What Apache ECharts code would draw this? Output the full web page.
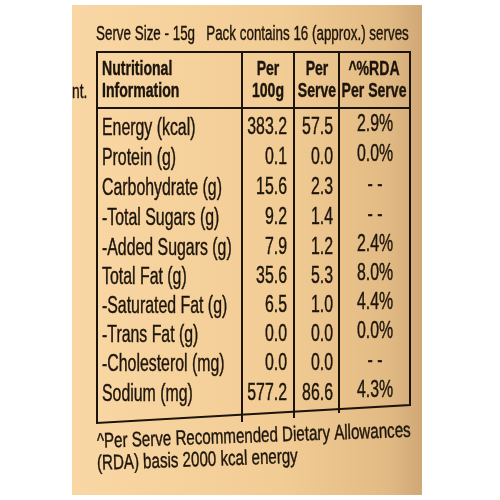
<!DOCTYPE html>
<html><head><meta charset="utf-8">
<script src="https://cdn.jsdelivr.net/npm/echarts@6/dist/echarts.min.js"></script>
<style>html,body{margin:0;padding:0;background:#fff}#c{width:500px;height:500px}</style>
</head><body><div id="c"></div>
<script>
var nutrients = ["Energy (kcal)","Protein (g)","Carbohydrate (g)","-Total Sugars (g)","-Added Sugars (g)","Total Fat (g)","-Saturated Fat (g)","-Trans Fat (g)","-Cholesterol (mg)","Sodium (mg)"];
var per100g = ["383.2","0.1","15.6","9.2","7.9","35.6","6.5","0.0","0.0","577.2"];
var perServe = ["57.5","0.0","2.3","1.4","1.2","5.3","1.0","0.0","0.0","86.6"];
var rda = ["2.9%","0.0%","- -","- -","2.4%","8.0%","4.4%","0.0%","- -","4.3%"];
var headerCols = ["Nutritional\nInformation","Per\n100g","Per\nServe","^%RDA\nPer Serve"];
var topLine = "Serve Size - 15g   Pack contains 16 (approx.) serves";
var footLines = ["^Per Serve Recommended Dietary Allowances","(RDA) basis 2000 kcal energy"];

var F = '"Liberation Sans Narrow","Liberation Sans",Arial,sans-serif';
var C = '#1c140a';
var chart = echarts.init(document.getElementById('c'));
var g = [];
function T(x,y,text,size,opt){
  opt=opt||{};
  g.push({type:'text',x:x,y:y,scaleX:opt.sx||0.69,rotation:opt.rot||0,style:{x:0,y:0,text:text,font:(opt.bold?'bold ':'')+size+'px '+F,fill:C,align:opt.align||'left',verticalAlign:'middle',lineHeight:opt.lh||undefined,stroke:C,lineWidth:0.4}});
}
g.push({type:'rect',shape:{x:72,y:5,width:350,height:490},style:{fill:new echarts.graphic.LinearGradient(0,0,1,0,[{offset:0,color:'#f9d7a4'},{offset:0.6,color:'#f2cc95'},{offset:0.9,color:'#e2ba84'},{offset:1,color:'#cfa877'}])}});
T(72,92,'nt.',20);
T(96,34,topLine,20,{sx:0.67});
g.push({type:'polygon',shape:{points:[[97,52],[410,52],[410,405],[97,423]]},style:{fill:'none',stroke:C,lineWidth:2}});
g.push({type:'line',shape:{x1:97,y1:108,x2:410,y2:108},style:{stroke:C,lineWidth:2}});
[[242,422],[294,418],[339,413]].forEach(function(d){g.push({type:'line',shape:{x1:d[0],y1:52,x2:d[0],y2:d[1]},style:{stroke:C,lineWidth:2}});});
var hx=[102,268,317,374], ha=['left','center','center','center'];
headerCols.forEach(function(t,i){T(hx[i],80,t,21,{bold:true,align:ha[i],lh:22,sx:0.67});});
nutrients.forEach(function(n,i){
  var y=129+i*29.8 - (i>4?(i-4)*0.6:0);
  T(102,y,n,23);
  T(287,y-1,per100g[i],23,{align:'right'});
  T(333,y-1,perServe[i],23,{align:'right'});
  T(375,y-4,rda[i],23,{align:'center'});
});
T(97,442,footLines[0],21,{rot:0.035,sx:0.72});
T(97,464,footLines[1],21,{rot:0.035,sx:0.72});
chart.setOption({graphic:{elements:g}});
</script></body></html>
